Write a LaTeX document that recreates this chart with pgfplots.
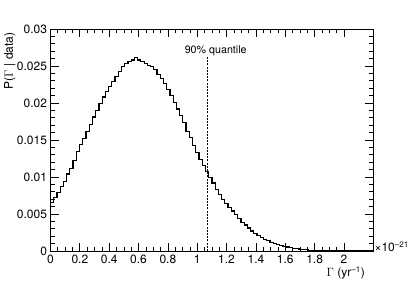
\documentclass[border=0pt]{standalone}
\usepackage{pgfplots}
\usepackage{pgfplotstable}
\usepackage{fontspec}
\setmainfont{TeX Gyre Heros}
\pgfplotsset{compat=1.18}
\pgfplotstableread{
x y
0.000 0.0066
0.022 0.0072
0.044 0.0079
0.066 0.0087
0.088 0.0094
0.110 0.0104
0.132 0.0112
0.154 0.0122
0.176 0.0134
0.198 0.0144
0.220 0.0152
0.242 0.0161
0.264 0.0171
0.286 0.0181
0.308 0.0190
0.330 0.0199
0.352 0.0208
0.374 0.0215
0.396 0.0222
0.418 0.0229
0.440 0.0236
0.462 0.0243
0.484 0.0249
0.506 0.0253
0.528 0.0256
0.550 0.0258
0.572 0.0261
0.594 0.0258
0.616 0.0256
0.638 0.0253
0.660 0.0251
0.682 0.0249
0.704 0.0245
0.726 0.0239
0.748 0.0233
0.770 0.0226
0.792 0.0218
0.814 0.0210
0.836 0.0201
0.858 0.0192
0.880 0.0183
0.902 0.0174
0.924 0.0162
0.946 0.0153
0.968 0.0143
0.990 0.0133
1.012 0.0124
1.034 0.0116
1.056 0.0107
1.078 0.0099
1.100 0.0092
1.122 0.0083
1.144 0.0076
1.166 0.0070
1.188 0.0064
1.210 0.0059
1.232 0.0054
1.254 0.0049
1.276 0.0044
1.298 0.0039
1.320 0.0035
1.342 0.0031
1.364 0.0027
1.386 0.0024
1.408 0.0021
1.430 0.0018
1.452 0.0016
1.474 0.0014
1.496 0.0012
1.518 0.0010
1.540 0.00088
1.562 0.00075
1.584 0.00063
1.606 0.00053
1.628 0.00044
1.650 0.00036
1.672 0.00030
1.694 0.00024
1.716 0.00019
1.738 0.00015
1.760 0.00012
1.782 0.00009
1.804 0.00007
1.826 0.00005
1.848 0.00004
1.870 0.00003
1.892 0.00002
1.914 0.000015
1.936 0.00001
1.958 0.000008
1.980 0.000006
2.002 0.000004
2.024 0.000003
2.046 0.000002
2.068 0.000002
2.090 0.000001
2.112 0.000001
2.134 0.000001
2.156 0.0
2.178 0.0
2.200 0.0
}\histdata
\begin{document}
\begin{tikzpicture}
\useasboundingbox (-50.5pt,-32pt) rectangle (364.5pt,251pt);
\begin{axis}[
  at={(0pt,0pt)}, anchor=south west,
  width=322.8pt, height=222pt, scale only axis,
  xmin=0, xmax=2.2, ymin=0, ymax=0.03,
  clip=false,
  axis line style={line width=0.8pt},
  tick align=inside,
  tick style={black, line width=0.7pt},
  major tick length=8pt, minor tick length=4pt,
  xtick={0,0.2,...,2.01},
  ytick={0,0.005,0.01,0.015,0.02,0.025,0.03},
  minor x tick num=3,
  minor y tick num=4,
  scaled x ticks=false, scaled y ticks=false,
  /pgf/number format/assume math mode=true,
  xticklabel style={/pgf/number format/fixed, /pgf/number format/precision=1, font=\fontsize{12}{14}\selectfont},
  yticklabel style={/pgf/number format/fixed, /pgf/number format/precision=3, font=\fontsize{12}{14}\selectfont},
]
\addplot[const plot, black, line width=1.2pt] table[x=x, y=y] {\histdata};
\addplot[black, line width=1pt, dash pattern=on 2pt off 1.2pt] coordinates {(1.073,0) (1.073,0.0262)};
\node[anchor=base, font=\fontsize{10.7}{12}\selectfont] at (axis cs:1.126,0.02672) {90\% quantile};
\node[rotate=90, anchor=base east, font=\fontsize{12}{14}\selectfont] at ([xshift=-37.5pt]rel axis cs:0,1) {P($\Gamma$ | data)};
\node[anchor=base east, font=\fontsize{12}{14}\selectfont] at ([xshift=-5pt, yshift=-26pt]rel axis cs:1,0) {$\Gamma$ (yr\textsuperscript{--1})};
\node[anchor=base west, inner sep=0pt, font=\fontsize{12}{14}\selectfont] at ([xshift=1pt, yshift=-1pt]rel axis cs:1,0) {×10\textsuperscript{--21}};
\end{axis}
\end{tikzpicture}
\end{document}
